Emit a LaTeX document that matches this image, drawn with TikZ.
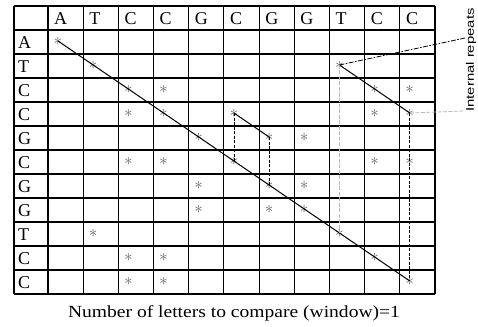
\documentclass[tikz,border=0pt]{standalone}
\usepackage{fontspec}
\setmainfont{Liberation Serif}
\setsansfont{Liberation Sans}
\usepackage{graphicx}
\usetikzlibrary{positioning}

\begin{document}
\begin{tikzpicture}[
  x=1pt, y=-1pt,
  gridline/.style={line width=1.1pt},
  seqlabel/.style={anchor=west, inner sep=0pt, font=\fontsize{18}{18}\selectfont},
  hit/.style={inner sep=0pt, text=black!60, font=\fontsize{18}{18}\selectfont},
  diag/.style={line width=1pt},
  drop/.style={line width=0.8pt, dash pattern=on 3pt off 1.5pt},
  dropgray/.style={line width=1pt, gray!55, dash pattern=on 4pt off 1.5pt},
  pointer/.style={line width=0.8pt, dash pattern=on 5pt off 1.5pt on 1.5pt off 1.5pt}
]
  \useasboundingbox (0,0) rectangle (478,326);

  % grid
  \foreach \i in {0,...,12}
    \draw[gridline] (14,6+24*\i) -- (435,6+24*\i);
  \draw[gridline] (14,6) -- (14,294);
  \foreach \j in {0,...,11}
    \draw[gridline] (48+35.18*\j,6) -- (48+35.18*\j,294);

  % sequence letters along both axes
  \foreach \c [count=\k] in {A,T,C,C,G,C,G,G,T,C,C} {
    \node[seqlabel] (col-\k) at (54+35.18*\k-35.18,18.5) {\c};
    \node[seqlabel] (row-\k) at (18,42.5+24*\k-24) {\c};
  }

  % matching letters
  \foreach \r/\cols in {1/{1}, 2/{2,9}, 3/{3,4,10,11}, 4/{3,4,6,10,11},
      5/{5,7,8}, 6/{3,4,6,10,11}, 7/{5,7,8}, 8/{5,7,8}, 9/{2,9},
      10/{3,4,10}, 11/{3,4,11}}
    \foreach \c in \cols
      \node[hit] (s-\r-\c) at (58+35.18*\c-35.18,41+24*\r-24) {$\ast$};

  % diagonals
  \draw[diag] (s-1-1.center) -- (s-11-11.center);
  \draw[diag] (s-2-9.center) -- (s-4-11.center);
  \draw[diag] (s-4-6.center) -- (s-5-7.center);

  % drops onto the main diagonal
  \draw[drop] (s-4-6.center) -- (s-6-6.center);
  \draw[drop] (s-5-7.center) -- (s-7-7.center);
  \draw[drop] (s-4-11.center) -- (s-11-11.center);
  \draw[dropgray] (s-2-9.center) -- (s-9-9.center);

  % label on the right
  \node[rotate=90, inner sep=0pt, font=\sffamily\fontsize{11}{11}\selectfont] (repeats) at (471,60)
    {\scalebox{1.35}[1]{Internal repeats}};
  \coordinate (rep-a) at (465,38);
  \coordinate (rep-b) at (464,111);
  \draw[pointer] (s-2-9.center) -- (rep-a);
  \draw[dropgray, line width=0.8pt] (s-4-11.center) -- (rep-b);

  \node[font=\fontsize{17}{17}\selectfont] (caption) at (234,313)
    {\scalebox{1.15}[1]{Number of letters to compare (window)=1}};
\end{tikzpicture}
\end{document}
